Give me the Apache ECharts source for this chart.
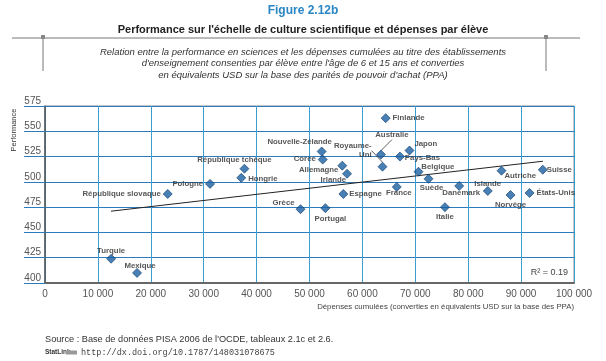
<!DOCTYPE html>
<html><head><meta charset="utf-8">
<script src="https://cdn.jsdelivr.net/npm/echarts@6/dist/echarts.min.js"></script>
<style>html,body{margin:0;padding:0;background:#fff}#c{width:606px;height:361px}</style>
</head><body><div id="c"></div>
<script>
// ---- data ----
const countries = ['République slovaque','Pologne','République tchèque','Hongrie','Nouvelle-Zélande','Corée','Allemagne','Irlande','Espagne','Grèce','Portugal','Finlande','Australie','Royaume-Uni','Japon','Pays-Bas','Belgique','Suède','France','Danemark','Italie','Islande','Norvège','États-Unis','Autriche','Suisse','Turquie','Mexique'];
const spending = [23200,31200,37700,37100,52300,52500,56200,57100,56400,48300,53000,64400,63500,63800,68900,67100,70600,72500,66500,78300,75600,83700,88000,91600,86300,94100,12500,17400];
const science = [488,498,513,504,530,522,516,508,488,473,474,563,527,515,531,525,510,503,495,496,475,491,487,489,511,512,424,410];
const trendX = [12470, 94130];
const trendY = [471, 520.4];
const r2Text = 'R² = 0.19';
const subtitleLines = [
  "Relation entre la performance en sciences et les dépenses cumulées au titre des établissements",
  "d'enseignement consenties par élève entre l'âge de 6 et 15 ans et converties",
  "en équivalents USD sur la base des parités de pouvoir d'achat (PPA)"
];

// ---- label placement (style) ----
const place = {
  'République slovaque':{p:'left',d:2,o:[0,0]},
  'Pologne':{p:'left',d:2,o:[0,0]},
  'République tchèque':{p:'top',d:5,o:[-10,6]},
  'Hongrie':{p:'right',d:2,o:[0,1]},
  'Nouvelle-Zélande':{p:'top',d:5,o:[-22,5]},
  'Corée':{p:'left',d:2,o:[0,-1]},
  'Allemagne':{p:'left',d:1,o:[2,4]},
  'Irlande':{p:'left',d:1,o:[5,6]},
  'Espagne':{p:'right',d:1,o:[0,0]},
  'Grèce':{p:'left',d:2,o:[1,-6]},
  'Portugal':{p:'bottom',d:5,o:[5,-4]},
  'Finlande':{p:'right',d:2,o:[0,0]},
  'Australie':{p:'top',d:5,o:[11,-5],lead:true},
  'Royaume-Uni':{p:'left',d:2,o:[-4,-16],lead:true},
  'Japon':{p:'right',d:1,o:[-1,-7]},
  'Pays-Bas':{p:'right',d:1,o:[-1,1]},
  'Belgique':{p:'right',d:1,o:[-3,-5]},
  'Suède':{p:'bottom',d:5,o:[3,-5]},
  'France':{p:'bottom',d:5,o:[2,-8]},
  'Danemark':{p:'bottom',d:5,o:[2,-7]},
  'Italie':{p:'bottom',d:5,o:[0,-5]},
  'Islande':{p:'top',d:5,o:[0,7]},
  'Norvège':{p:'bottom',d:5,o:[0,-5]},
  'États-Unis':{p:'right',d:2,o:[0,0]},
  'Autriche':{p:'right',d:1,o:[-3,5]},
  'Suisse':{p:'right',d:1,o:[-2,0]},
  'Turquie':{p:'top',d:5,o:[0,7]},
  'Mexique':{p:'top',d:5,o:[3,7]}
};

const fmt = v => String(v).replace(/\B(?=(\d{3})+(?!\d))/g, ' ');

const pts = countries.map((c,i) => {
  const pl = place[c];
  const item = {name:c, value:[spending[i], science[i]],
    label:{position:pl.p, distance:pl.d}};
  if (pl.lead) item.labelLine = {show:true, lineStyle:{color:'#333', width:0.8}};
  return item;
});

const chart = echarts.init(document.getElementById('c'), null, {renderer:'canvas'});
const FONT = '"Liberation Sans", Arial, sans-serif';
const graphics = [
  {type:'line', shape:{x1:12, y1:38, x2:580, y2:38}, style:{stroke:'#777', lineWidth:1}},
  {type:'line', shape:{x1:43, y1:38, x2:43, y2:71}, style:{stroke:'#777', lineWidth:1}},
  {type:'line', shape:{x1:546, y1:38, x2:546, y2:71}, style:{stroke:'#777', lineWidth:1}},
  {type:'rect', shape:{x:41, y:35, width:4, height:4}, style:{fill:'#888'}},
  {type:'rect', shape:{x:544, y:35, width:4, height:4}, style:{fill:'#888'}},
  {type:'text', x:14, y:130, rotation:Math.PI/2, style:{text:'Performance', fill:'#333', font:'7.5px '+FONT, textAlign:'center', textVerticalAlign:'middle'}},
  {type:'text', x:568, y:273, style:{text:r2Text, fill:'#444', font:'9px '+FONT, textAlign:'right', textVerticalAlign:'middle'}},
  {type:'text', x:45, y:339, style:{text:"Source : Base de données PISA 2006 de l'OCDE, tableaux 2.1c et 2.6.", fill:'#333', font:'9.2px '+FONT, textVerticalAlign:'middle'}},
  {type:'text', x:45, y:352.5, style:{text:'StatLink', fill:'#333', font:'bold 6.5px '+FONT, textVerticalAlign:'middle'}},
  {type:'rect', shape:{x:66, y:350.5, width:11, height:4}, style:{fill:'#999'}},
  {type:'text', x:81, y:352.5, style:{text:'http://dx.doi.org/10.1787/148031078675', fill:'#444', font:'8.5px "Liberation Mono", monospace', textVerticalAlign:'middle'}}
];
subtitleLines.forEach((t,i) => graphics.push({type:'text', x:303, y:52 + i*11.7,
  style:{text:t, fill:'#333', font:'italic 9.5px '+FONT, textAlign:'center', textVerticalAlign:'middle'}}));

chart.setOption({
  animation:false,
  title:[
    {text:'Figure 2.12b', left:'center', top:0, textStyle:{color:'#2a86c4', fontSize:12, fontWeight:'bold', fontFamily:FONT}},
    {text:"Performance sur l'échelle de culture scientifique et dépenses par élève", left:'center', top:19, textStyle:{color:'#222', fontSize:11, fontWeight:'bold', fontFamily:FONT}}
  ],
  grid:{left:45, right:32, top:106, bottom:78, show:true, borderColor:'#8a8a8a', borderWidth:1},
  xAxis:{type:'value', min:0, max:100000, interval:10000,
    axisLine:{show:true, onZero:false, lineStyle:{color:'#666', width:2}},
    axisTick:{show:false},
    axisLabel:{color:'#555', fontSize:10, margin:6, fontFamily:FONT, formatter:fmt},
    splitLine:{show:true, lineStyle:{color:'#3a9ed3', width:1}},
    name:'Dépenses cumulées (converties en équivalents USD sur la base des PPA)',
    nameLocation:'end', nameGap:0,
    nameTextStyle:{color:'#444', fontSize:7.8, align:'right', verticalAlign:'top', padding:[20,0,0,0], fontFamily:FONT}
  },
  yAxis:{type:'value', min:400, max:575, interval:25,
    axisLine:{show:true, lineStyle:{color:'#555', width:1.5}},
    axisTick:{show:true, length:21, lineStyle:{color:'#2b7bbd'}},
    axisLabel:{color:'#555', fontSize:10, margin:4, verticalAlign:'bottom', fontFamily:FONT, showMaxLabel:true},
    splitLine:{show:true, lineStyle:{color:'#2b7bbd', width:1}}
  },
  graphic:graphics,
  series:[
    {type:'line', data:trendX.map((x,i)=>[x,trendY[i]]), symbol:'none', silent:true,
     lineStyle:{color:'#222', width:1}, z:3},
    {type:'scatter', data:pts, symbol:'diamond', symbolSize:9, z:5,
     itemStyle:{color:'#1a5fa3', borderColor:'#0d3a6a', borderWidth:0.8},
     label:{show:true, color:'#2a2a2a', fontSize:7.8, fontWeight:'bold', fontFamily:FONT,
       formatter:p => p.name === 'Royaume-Uni' ? 'Royaume-\nUni' : p.name, lineHeight:9},
     labelLayout:function(p){ const o = place[countries[p.dataIndex]].o; return {dx:o[0], dy:o[1]}; },
     labelLine:{show:false}
    }
  ]
});
</script></body></html>
